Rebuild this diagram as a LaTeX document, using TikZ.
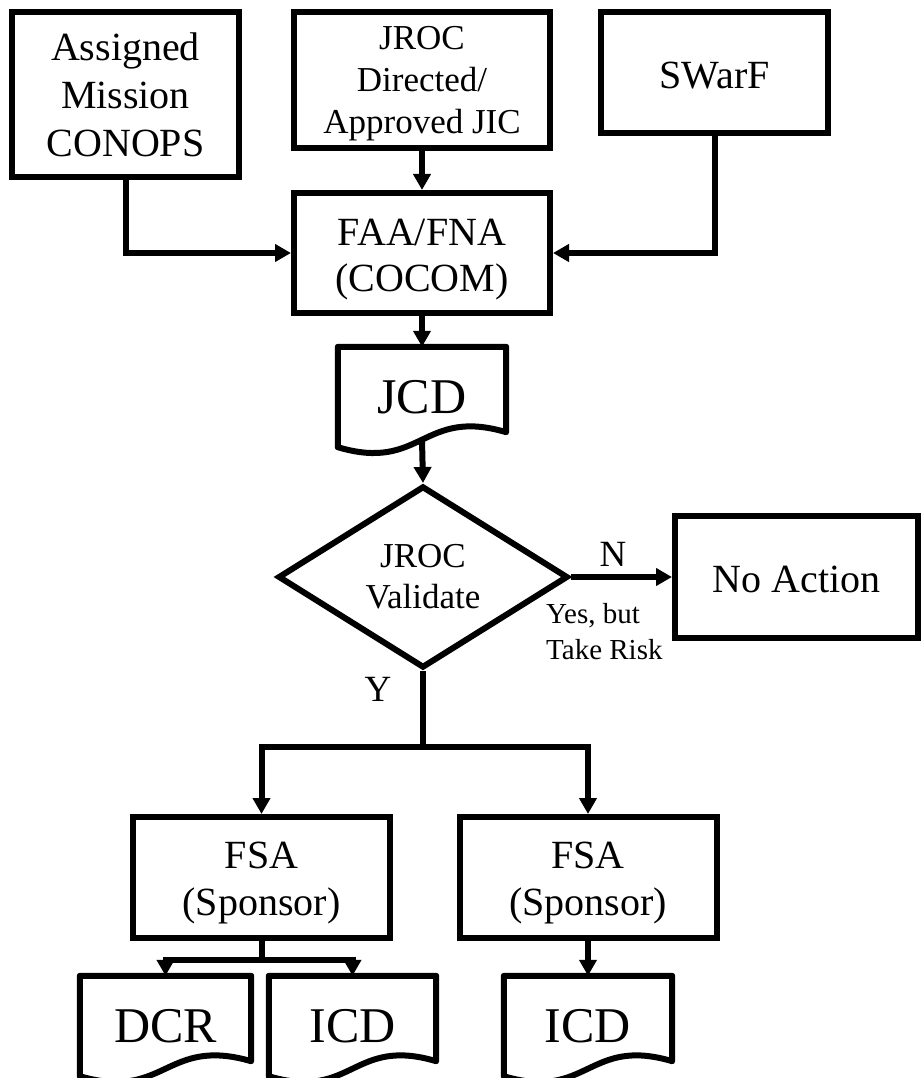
\documentclass[tikz,border=0pt]{standalone}
\usepackage{fontspec}
\setmainfont{Liberation Serif}
\usetikzlibrary{shapes.geometric,arrows.meta,calc}
\newcommand\docpath[1]{\draw[docline] (#1.north west) -- (#1.north east) -- ($(#1.south east)+(0,-15)$) .. controls ($(#1.south)+(0,-40)$) and ($(#1.south)+(0,25)$) .. (#1.south west) -- cycle;}
\newcommand\lift[1]{\rule{0pt}{#1}}
\begin{document}
\begin{tikzpicture}[x=1pt,y=-1pt,
  box/.style={draw, rectangle, inner sep=0pt, align=center, line width=6pt},
  docnode/.style={rectangle, inner sep=0pt, align=center, minimum height=100pt, font=\fontsize{50}{60}\selectfont},
  docline/.style={draw, line width=6pt, line join=round},
  conn/.style={line width=6pt},
  arr/.style={conn, -{Triangle[length=16pt,width=17pt]}},
  fbig/.style={font=\fontsize{40}{48}\selectfont},
  fmid/.style={font=\fontsize{35}{42}\selectfont},
  lbl/.style={inner sep=0pt, font=\fontsize{37}{44}\selectfont},
  small/.style={inner sep=0pt, align=left, font=\fontsize{29}{36}\selectfont}
]
\useasboundingbox (0,0) rectangle (922,1078);

\node[box, fbig, minimum width=227pt, minimum height=165pt] (ass) at (125.5,94.5) {Assigned\\Mission\\CONOPS};
\node[box, fmid, minimum width=256pt, minimum height=136pt] (jroc) at (422,80) {\lift{31pt}JROC\\Directed/\\Approved JIC};
\node[box, fbig, minimum width=227pt, minimum height=121pt] (swarf) at (714.5,72.5) {\lift{32pt}SWarF};
\node[box, font=\fontsize{40}{46}\selectfont, minimum width=256pt, minimum height=120pt] (faa) at (422,253) {\lift{39pt}FAA/FNA\\(COCOM)};

\node[docnode, minimum width=168pt] (jcd) at (422,397) {JCD};
\docpath{jcd}

\node[diamond, draw, line width=6pt, inner sep=0pt, aspect=1.6, minimum width=290pt, minimum height=182pt, align=center, font=\fontsize{35}{41}\selectfont] (dia) at (423,577) {JROC\\Validate};
\node[box, fbig, minimum width=243pt, minimum height=122pt] (noact) at (796.5,577) {\lift{32pt}No Action};

\node[box, font=\fontsize{40}{47}\selectfont, minimum width=257pt, minimum height=121pt] (fsaL) at (261.5,877.5) {\lift{38pt}FSA\\(Sponsor)};
\node[box, font=\fontsize{40}{47}\selectfont, minimum width=257pt, minimum height=121pt] (fsaR) at (588,877.5) {\lift{38pt}FSA\\(Sponsor)};

\node[docnode, minimum width=171pt] (dcr) at (165.5,1026) {DCR};
\docpath{dcr}
\node[docnode, minimum width=167pt] (icdL) at (352.5,1026) {ICD};
\docpath{icdL}
\node[docnode, minimum width=168pt] (icdR) at (588,1026) {ICD};
\docpath{icdR}

\node[lbl] (nlab) at (613,554) {N};
\node[lbl] (ylab) at (378,689) {Y};
\node[small, anchor=north west] (risk) at (546,603) {Yes, but\\Take Risk};

\draw[arr] (ass.south) |- (faa.west);
\draw[arr] (jroc.south) -- (faa.north);
\draw[arr] (swarf.south) |- (faa.east);
\draw[arr] (faa.south) -- (jcd.north);
\draw[arr] ($(jcd.south)+(0,-7)$) -- (dia.north);
\draw[arr] (dia.east) -- (noact.west);
\coordinate (ysplit) at ($(dia.south)+(0,76)$);
\draw[conn] (dia.south) -- (ysplit);
\draw[arr] (ysplit) -| (fsaL.north);
\draw[arr] (ysplit) -| (fsaR.north);
\coordinate (s1) at ($(fsaL.south)+(0,19)$);
\draw[conn] (fsaL.south) -- (s1);
\draw[arr] (s1) -| (dcr.north);
\draw[arr] (s1) -| (icdL.north);
\draw[arr] (fsaR.south) -- (icdR.north);
\end{tikzpicture}
\end{document}
